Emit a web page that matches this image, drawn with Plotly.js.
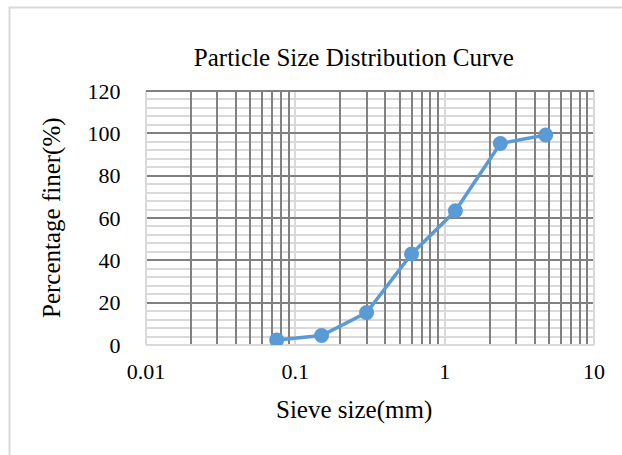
<!DOCTYPE html>
<html>
<head>
<meta charset="utf-8">
<script src="https://cdn.plot.ly/plotly-3.0.1.min.js"></script>
<style>
html,body{margin:0;padding:0;background:#fff;}
#chart{width:622px;height:455px;}
</style>
</head>
<body>
<div id="chart"></div>
<script>
var sieveSizes = [0.075, 0.15, 0.3, 0.6, 1.18, 2.36, 4.75];
var percentFiner = [2.4, 4.5, 15.3, 43.0, 63.4, 95.2, 99.2];
var xTickVals = [0.01, 0.1, 1, 10];
var xTickText = ['0.01', '0.1', '1', '10'];
var xMinorVals = [0.02, 0.03, 0.04, 0.05, 0.06, 0.07, 0.08, 0.09,
                  0.2, 0.3, 0.4, 0.5, 0.6, 0.7, 0.8, 0.9,
                  2, 3, 4, 5, 6, 7, 8, 9];
var yTickVals = [0, 20, 40, 60, 80, 100, 120];

var serif = '"Liberation Serif", "Times New Roman", serif';
var dark = '#808080';
var light = '#d9d9d9';

// invisible carrier trace so the base (light-grid) subplot is created
var baseTrace = {
  x: sieveSizes, y: percentFiner,
  xaxis: 'x', yaxis: 'y',
  type: 'scatter', mode: 'markers',
  marker: {opacity: 0, size: 1},
  hoverinfo: 'skip'
};

var trace = {
  x: sieveSizes,
  y: percentFiner,
  xaxis: 'x2', yaxis: 'y2',
  type: 'scatter',
  mode: 'lines+markers',
  line: {color: '#5b9bd5', width: 3.5},
  marker: {color: '#5b9bd5', size: 15},
  hoverinfo: 'skip'
};

var yRange = [0, 120];

var layout = {
  width: 622, height: 455,
  margin: {l: 146, r: 28, t: 91, b: 110},
  paper_bgcolor: '#fff', plot_bgcolor: '#fff',
  showlegend: false,
  font: {family: serif, color: '#000', size: 22},
  title: {text: 'Particle Size Distribution Curve', font: {family: serif, size: 25, color: '#000'},
          x: 0.464, xref: 'paper', xanchor: 'center', y: 1 - 57/455, yanchor: 'middle'},
  xaxis: {
    type: 'log', range: [-2, 1],
    tickvals: xTickVals, ticktext: xTickText,
    showgrid: true, gridcolor: light, gridwidth: 2,
    ticks: 'outside', ticklen: 7, tickcolor: 'rgba(0,0,0,0)',
    tickfont: {family: serif, size: 22, color: '#000'},
    zeroline: false, showline: false, fixedrange: true
  },
  yaxis: {
    range: yRange, tick0: 0, dtick: 4,
    showgrid: true, gridcolor: light, gridwidth: 2,
    showticklabels: false, ticks: '',
    zeroline: false, showline: false, fixedrange: true
  },
  xaxis2: {
    type: 'log', range: [-2, 1], overlaying: 'x', anchor: 'y', side: 'bottom',
    tickvals: xMinorVals, showticklabels: false, ticks: '',
    showgrid: true, gridcolor: dark, gridwidth: 2,
    zeroline: false, showline: false, fixedrange: true
  },
  yaxis2: {
    range: yRange, overlaying: 'y', anchor: 'x', side: 'left',
    tickvals: yTickVals,
    showgrid: true, gridcolor: dark, gridwidth: 2,
    ticks: 'outside', ticklen: 20, tickcolor: 'rgba(0,0,0,0)',
    tickfont: {family: serif, size: 22, color: '#000'},
    zeroline: true, zerolinecolor: light, zerolinewidth: 2,
    showline: false, fixedrange: true
  },
  annotations: [
    {text: 'Sieve size(mm)', xref: 'paper', yref: 'paper', x: 0.464, y: -(410-345)/254,
     xanchor: 'center', yanchor: 'middle', showarrow: false, font: {family: serif, size: 25, color: '#000'}},
    {text: 'Percentage finer(%)', xref: 'paper', yref: 'paper', x: -(146-52)/448, y: 0.5,
     xanchor: 'center', yanchor: 'middle', textangle: -90, showarrow: false, font: {family: serif, size: 25, color: '#000'}}
  ],
  shapes: [
    {type: 'rect', xref: 'paper', yref: 'paper', x0: -(146-9.5)/448, x1: 1.2, y0: -0.6, y1: (345-7.5)/254,
     line: {color: light, width: 2}, layer: 'below'},
    // plot-area frame: left/right edges light, top edge dark (as the chart's outer grid lines)
    {type: 'line', xref: 'paper', yref: 'paper', x0: 0, x1: 0, y0: 0, y1: 1,
     line: {color: light, width: 2}, layer: 'above'},
    {type: 'line', xref: 'paper', yref: 'paper', x0: 1, x1: 1, y0: 0, y1: 1,
     line: {color: light, width: 2}, layer: 'above'},
    {type: 'line', xref: 'paper', yref: 'paper', x0: 0, x1: 1, y0: 1, y1: 1,
     line: {color: dark, width: 2}, layer: 'above'}
  ]
};

Plotly.newPlot('chart', [baseTrace, trace], layout, {displayModeBar: false, staticPlot: true});
</script>
</body>
</html>
